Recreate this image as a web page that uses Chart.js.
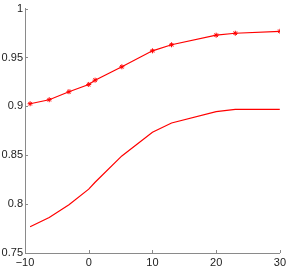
<!DOCTYPE html>
<html><head><meta charset="utf-8">
<script src="https://cdn.jsdelivr.net/npm/chart.js@4"></script>
<style>html,body{margin:0;padding:0;background:#fff}#c{display:block}</style>
</head><body>
<canvas id="c" width="289" height="266"></canvas>
<script>
const xValues = [-9.2, -6.2, -3.1, 0, 1, 5.2, 10, 13, 20, 23, 30];
const upperSeries = [0.9027, 0.9068, 0.915, 0.9224, 0.9268, 0.9405, 0.9568, 0.963, 0.9728, 0.9748, 0.9768];
const lowerSeries = [0.7768, 0.7864, 0.7993, 0.8153, 0.8224, 0.8493, 0.8735, 0.883, 0.8946, 0.897, 0.897];
const xTicks = [-10, 0, 10, 20, 30];
const yTicks = [0.75, 0.8, 0.85, 0.9, 0.95, 1];

const pts = ys => xValues.map((x, i) => ({x, y: ys[i]}));
const axisColor = '#8a8a8a';
const font = {family: 'Liberation Sans, Arial, sans-serif', size: 11};

const inwardTicks = {
  id: 'inwardTicks',
  afterDraw(chart) {
    const ctx = chart.ctx, a = chart.chartArea;
    ctx.save();
    ctx.strokeStyle = axisColor; ctx.lineWidth = 1;
    ctx.beginPath();
    const xs = chart.scales.x, ys = chart.scales.y;
    xs.ticks.forEach((t, i) => {
      const p = Math.round(xs.getPixelForTick(i)) + 0.5;
      ctx.moveTo(p, a.bottom); ctx.lineTo(p, a.bottom - 3);
    });
    ys.ticks.forEach((t, i) => {
      const p = Math.round(ys.getPixelForTick(i)) + 0.5;
      ctx.moveTo(a.left, p); ctx.lineTo(a.left + 3, p);
    });
    ctx.stroke();
    ctx.restore();
  }
};

new Chart(document.getElementById('c'), {
  type: 'line',
  data: {
    datasets: [
      {data: pts(upperSeries), borderColor: '#ff0000', backgroundColor: '#ff0000', borderWidth: 1.2,
       pointStyle: 'star', pointRadius: 2.5, pointBorderWidth: 1, pointBorderColor: '#ff0000', tension: 0},
      {data: pts(lowerSeries), borderColor: '#ff0000', borderWidth: 1.2, pointRadius: 0, tension: 0}
    ]
  },
  options: {
    responsive: false, animation: false,
    plugins: {legend: {display: false}, tooltip: {enabled: false}},
    layout: {padding: {top: 8, right: 9, bottom: 0, left: 0}},
    scales: {
      x: {
        type: 'linear', min: -10, max: 30,
        afterBuildTicks: s => { s.ticks = xTicks.map(v => ({value: v})); },
        afterFit: s => { s.height = 13; },
        grid: {display: true, drawOnChartArea: false, drawTicks: false, color: axisColor},
        border: {display: true, color: axisColor},
        ticks: {font, color: '#222', padding: 3, maxRotation: 0, autoSkip: false,
                callback: v => String(v).replace('-', '\u2212')}
      },
      y: {
        type: 'linear', min: 0.75, max: 1,
        afterBuildTicks: s => { s.ticks = yTicks.map(v => ({value: v})); },
        afterFit: s => { s.width = 25; },
        grid: {display: true, drawOnChartArea: false, drawTicks: false, color: axisColor},
        border: {display: true, color: axisColor},
        ticks: {font, color: '#222', padding: 2, autoSkip: false,
                callback: v => String(v)}
      }
    }
  },
  plugins: [inwardTicks]
});
</script>
</body></html>
